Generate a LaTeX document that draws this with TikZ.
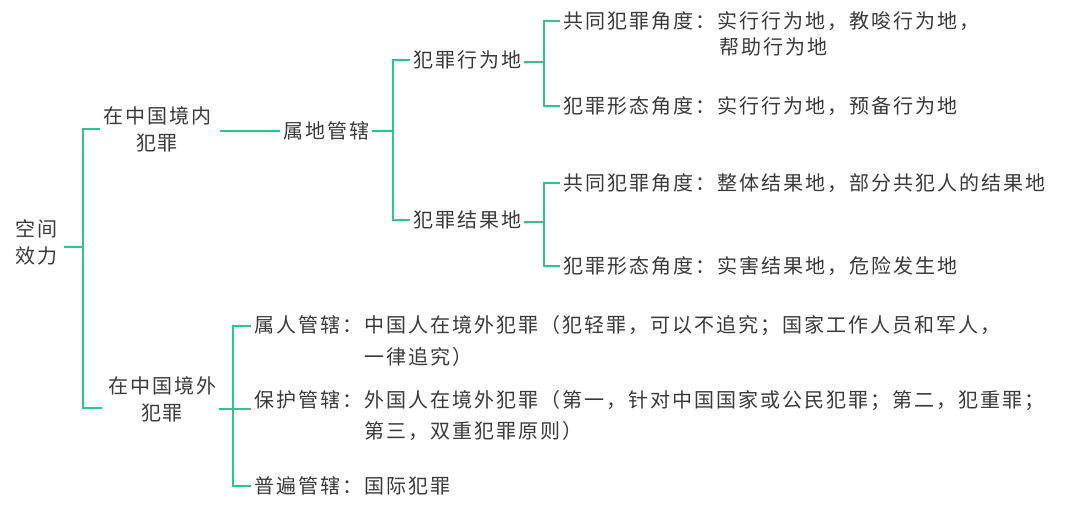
\documentclass[tikz,border=0pt]{standalone}
\usepackage{fontspec}
\usepackage{tikz}
\usetikzlibrary{calc}
\newfontfamily\cjk[LetterSpace=10]{Noto Sans CJK SC}
\definecolor{brgreen}{RGB}{46,196,140}
\definecolor{brtext}{RGB}{58,58,58}
\tikzset{brline/.style={draw=brgreen, line width=1.6pt},
  brtxt/.style={font=\cjk\fontsize{20}{27}\selectfont, text=brtext, inner xsep=3pt, inner ysep=0pt, anchor=west}}

\begin{document}
\begin{tikzpicture}[x=1pt, y=-1pt]
\useasboundingbox[fill=white] (0,0) rectangle (1080,516);
% first and second level
\node[brtxt, anchor=center, align=center] (kj) at (37,242) {空间\\效力};
\node[brtxt, anchor=center, align=center] (zn) at (157,129) {在中国境内\\犯罪};
\node[brtxt, anchor=center, align=center] (zw) at (162,399) {在中国境外\\犯罪};
\node[brtxt] (sd) at (280,131) {属地管辖};
% territorial branch
\node[brtxt] (xw) at (410,60) {犯罪行为地};
\node[brtxt] (jg) at (410,220) {犯罪结果地};
\node[brtxt] (gt1) at (560,21) {共同犯罪角度：实行行为地，教唆行为地，};
\node[brtxt] (gt1b) at (716,47) {帮助行为地};
\node[brtxt] (xt1) at (560,106) {犯罪形态角度：实行行为地，预备行为地};
\node[brtxt] (gt2) at (560,183) {共同犯罪角度：整体结果地，部分共犯人的结果地};
\node[brtxt] (xt2) at (560,266) {犯罪形态角度：实害结果地，危险发生地};
% outside branch
\node[brtxt] (sr) at (251,326) {属人管辖：中国人在境外犯罪（犯轻罪，可以不追究；国家工作人员和军人，};
\node[brtxt] (srb) at (361,357) {一律追究）};
\node[brtxt] (bh) at (251,401) {保护管辖：外国人在境外犯罪（第一，针对中国国家或公民犯罪；第二，犯重罪；};
\node[brtxt] (bhb) at (361,431) {第三，双重犯罪原则）};
\node[brtxt] (pb) at (251,486) {普遍管辖：国际犯罪};
% branch points
\coordinate (b0) at (83,247);
\coordinate (b1) at (393,131);
\coordinate (b2) at (544,62);
\coordinate (b3) at (544,222);
\coordinate (b4) at (233,409);
\draw[brline, shorten <=3pt] (kj.east |- b0) -- (b0);
\draw[brline] (zn.west) -| (b0) |- ($(zw.west)+(-3,9)$);
\draw[brline, shorten <=6pt] (zn.east |- sd.west) -- (sd.west);
\draw[brline] (sd.east) -- (b1);
\draw[brline] (xw.west) -| (b1) |- (jg.west);
\draw[brline] (xw.east |- b2) -- (b2);
\draw[brline] (gt1.west) -| (b2) |- (xt1.west);
\draw[brline] (jg.east |- b3) -- (b3);
\draw[brline] (gt2.west) -| (b3) |- (xt2.west);
\draw[brline] (sr.west) -| (b4) |- (pb.west);
\draw[brline] (zw.east |- b4) -- (bh.west |- b4);
\end{tikzpicture}
\end{document}
